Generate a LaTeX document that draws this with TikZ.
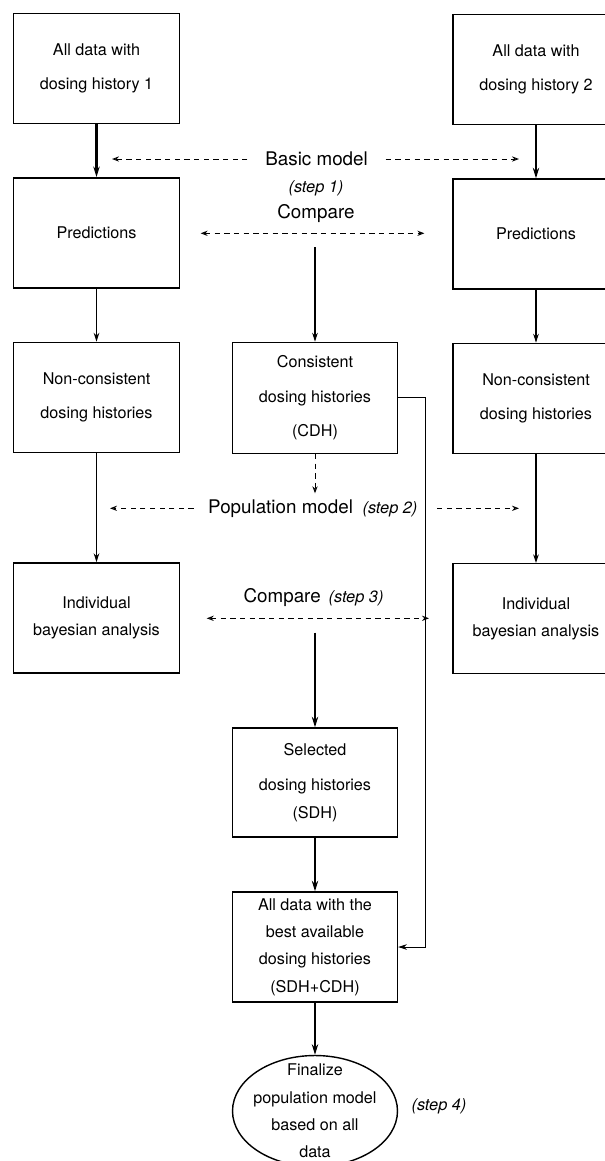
\documentclass[tikz,border=0pt]{standalone}
\usepackage{fontspec}
\setmainfont{TeX Gyre Heros}
\usetikzlibrary{positioning, arrows.meta, calc, shapes.geometric}

\begin{document}
\begin{tikzpicture}[
  x=0.02cm, y=-0.02cm,
  box/.style={draw, line width=0.8pt, minimum width=3.32cm, minimum height=2.2cm, align=center, inner sep=0pt, font=\fontsize{9.2}{19.5}\selectfont},
  mid/.style={box, minimum width=3.3cm, font=\fontsize{9.2}{15.6}\selectfont},
  lbl/.style={font=\fontsize{10.7}{13}\selectfont, inner sep=0pt},
  stp/.style={font=\fontsize{9.3}{11}\selectfont\itshape, inner sep=0pt},
  arr/.style={-{Stealth[length=5pt, width=3.2pt]}, line width=0.6pt},
  thk/.style={-{Stealth[length=6pt, width=3.6pt]}, line width=1.3pt},
  dsh/.style={-{Stealth[length=4pt, width=3pt, open]}, line width=0.5pt, dash pattern=on 3pt off 2.5pt},
  dshb/.style={dsh, {Stealth[length=4pt, width=3pt, open]}-{Stealth[length=4pt, width=3pt, open]}},
]
\useasboundingbox (0,0) rectangle (605,1161);

% --- Two dosing history columns ---
\node[box] (d1) at (96.5,68.3) {All data with\\dosing history 1};
\node[box] (d2) at (536,69.5) {All data with\\dosing history 2};

\node[box] (pred1) at (96.5,232.8) {Predictions};
\node[box] (pred2) at (536,234) {Predictions};

\node[box] (nc1) at (96.5,397.3) {Non-consistent\\dosing histories};
\node[box] (nc2) at (536,398.3) {Non-consistent\\dosing histories};

\node[box, font=\fontsize{9.2}{15.7}\selectfont] (ind1) at (96.5,617.8) {Individual\\bayesian analysis};
\node[box, font=\fontsize{9.2}{15.7}\selectfont] (ind2) at (536,618.7) {Individual\\bayesian analysis};

\foreach \s in {1,2} {
  \draw[thk] (d\s.south) -- (pred\s.north);
  \draw[arr] (pred\s.south) -- (nc\s.north);
  \draw[arr] (nc\s.south) -- (ind\s.north);
}

% --- Middle column ---
\node[box, minimum width=3.3cm, minimum height=2.22cm, font=\fontsize{9.2}{19.8}\selectfont] (cdh) at (315,397.8) {Consistent\\dosing histories\\(CDH)};
\node[mid, minimum height=2.18cm] (sdh) at (315,782.5) {Selected\\[4.5pt]dosing histories\\(SDH)};
\node[mid, minimum height=2.2cm] (all) at (315,947) {All data with the\\best available\\dosing histories\\(SDH+CDH)};
\node[draw, ellipse, line width=0.8pt, minimum width=3.3cm, minimum height=2.22cm] (fin) at (315,1111) {};
\node[font=\fontsize{9.2}{15.6}\selectfont, align=center] (fintxt) at (fin.center) {Finalize\\population model\\based on all\\data};
\node[stp] (s4) at (439,1106.7) {(step 4)};

% --- Labels ---
\node[lbl] (basic) at (316.6,159) {Basic model};
\node[stp] (s1) at (316,188.3) {(step 1)};
\node[lbl] (cmp1) at (316,213.3) {Compare};
\node[lbl] (pop) at (312.8,508.3) {Population model\hspace{5.5pt}{\fontsize{9.3}{11}\selectfont\itshape(step 2)}};
\node[lbl] (cmp3) at (313.5,598) {Compare\hspace{4.5pt}{\fontsize{9.3}{11}\selectfont\itshape(step 3)}};

% --- Dashed connectors ---
\coordinate (bmL) at (112,159);
\coordinate (bmR) at (519,159);
\draw[dsh] ([xshift=-10pt]basic.west) -- (bmL);
\draw[dsh] ([xshift=10pt]basic.east) -- (bmR);

\coordinate (c1L) at (200.6,233.3);
\coordinate (c1R) at (424.4,233.3);
\draw[dshb] (c1L) -- (c1R);

\coordinate (cdhD) at (315,493.3);
\draw[dsh] (cdh.south) -- (cdhD);

\coordinate (popL) at (110,508.3);
\coordinate (popR) at (519,508.3);
\draw[dsh] ([xshift=-8pt]pop.west) -- (popL);
\draw[dsh] ([xshift=11pt]pop.east) -- (popR);

\coordinate (c3L) at (206.7,618.3);
\coordinate (c3R) at (429,618.3);
\draw[dshb] (c3L) -- (c3R);

% --- Solid connectors in the middle ---
\coordinate (c1D) at (315,247.3);
\draw[arr] (c1D) -- (cdh.north);
\coordinate (c3D) at (315,632.7);
\draw[thk, line width=1pt] (c3D) -- (sdh.north);
\draw[thk, line width=1pt] (sdh.south) -- (all.north);
\draw[thk] (all.south) -- (fin.north);

\coordinate (bend) at (425.5,0);
\draw[arr, line width=0.5pt] (cdh.east) -- (cdh.east -| bend) |- (all.east);

\end{tikzpicture}
\end{document}
